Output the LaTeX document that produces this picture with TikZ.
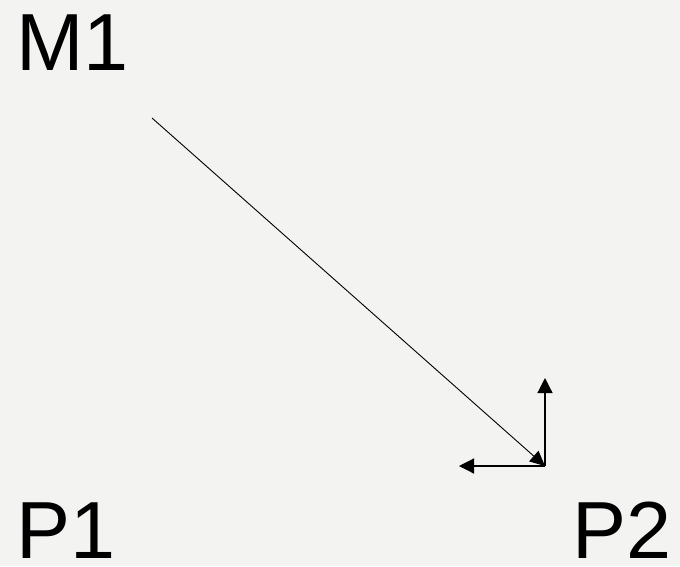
\documentclass[tikz,border=0pt]{standalone}
\usepackage{fontspec}
\setmainfont{Liberation Sans}
\usetikzlibrary{arrows.meta}
\definecolor{bg}{RGB}{243,243,241}
\begin{document}
\begin{tikzpicture}[x=1pt,y=-1pt,
  lbl/.style={inner sep=0pt,font=\fontsize{81}{81}\selectfont},
  vec/.style={-{Triangle[length=15pt,width=15pt]},line width=1.2pt},
  diag/.style={-{Triangle[length=15pt,width=14pt]},line width=0.9pt}]
\fill[bg] (0,0) rectangle (680,566);
\useasboundingbox (0,0) rectangle (680,566);
\node[lbl,anchor=base west] (m1) at (16,70) {M1};
\node[lbl,anchor=base west] (p1) at (16,558) {P1};
\node[lbl,anchor=base east] (p2) at (672,558) {P2};
\coordinate (s) at (152,118);
\coordinate (o) at (545,466);
\coordinate (u) at (545,378);
\coordinate (l) at (459,466);
\draw[diag] (s) -- (o);
\draw[vec] (o) -- (u);
\draw[vec] (o) -- (l);
\end{tikzpicture}
\end{document}
